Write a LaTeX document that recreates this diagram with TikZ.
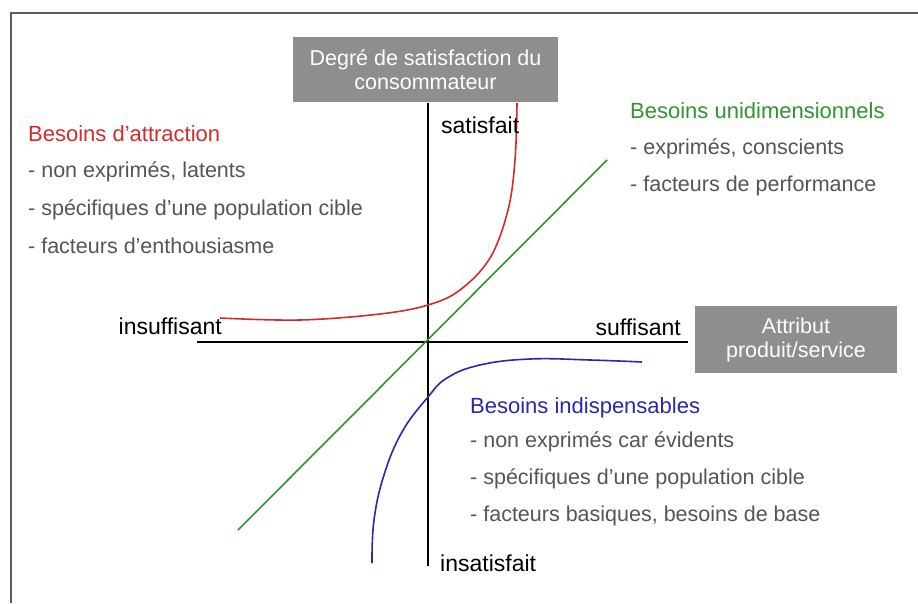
\documentclass[tikz,border=0pt]{standalone}
\usepackage{fontspec}
\setmainfont{Liberation Sans}
\definecolor{framegray}{HTML}{5C5C5C}
\definecolor{boxgray}{HTML}{8E8E8E}
\definecolor{txtgray}{HTML}{555555}
\definecolor{redc}{HTML}{D22B2B}
\definecolor{greenc}{HTML}{2F952F}
\definecolor{bluec}{HTML}{2828B0}
\begin{document}
\begin{tikzpicture}[x=1pt,y=-1pt,
  lab/.style={font=\fontsize{23}{26}\selectfont,text=black,inner sep=0pt},
  item/.style={font=\fontsize{21.5}{25}\selectfont,text=txtgray,inner sep=0pt,anchor=west},
  ttl/.style={font=\fontsize{22}{25}\selectfont,inner sep=0pt,anchor=west},
  gbox/.style={fill=boxgray,text=white,font=\fontsize{21.5}{24}\selectfont,align=center,inner sep=0pt,minimum width=#1},
  axis/.style={black,line width=1.3pt},
  curve/.style={line width=1.6pt}]
\useasboundingbox (0,0) rectangle (918,603);
\fill[white] (0,0) rectangle (918,603);
% frame
\coordinate (f1) at (11,603);
\coordinate (f2) at (11,13);
\coordinate (f3) at (918,13);
\draw[framegray,line width=2pt] (f1) -- (f2) -- (f3);
% boxes
\node[gbox=265pt,minimum height=65pt] (ybox) at (425.5,69.5) {Degré de satisfaction du\\consommateur};
\node[gbox=202pt,minimum height=67pt] (xbox) at (796,339.5) {Attribut\\produit/service};
% axes
\coordinate (vt) at (428,103);
\coordinate (vb) at (428,566);
\coordinate (hl) at (197,342);
\coordinate (hr) at (688,342);
\draw[axis] (vt) -- (vb);
\draw[axis] (hl) -- (hr);
% green line
\coordinate (g1) at (238,530);
\coordinate (g2) at (607,160);
\draw[greenc,curve] (g1) -- (g2);
% red curve
\draw[redc,curve] plot[smooth,tension=0.6] coordinates {(220,318) (300,320) (380,314) (428,305) (460,290) (490,258) (508,210) (515,160) (517,103)};
% blue curve
\draw[bluec,curve] plot[smooth,tension=0.7] coordinates {(642,362) (590,360) (530,359) (480,365) (447,378) (428,397) (402,432) (384,475) (374,520) (372,563)};
% axis labels
\node[lab,anchor=west] (sat) at (441,125) {satisfait};
\node[lab,anchor=west] (insat) at (440,563) {insatisfait};
\node[lab,anchor=east] (insuf) at (222,326) {insuffisant};
\node[lab,anchor=east] (suf) at (681,327) {suffisant};
% red block
\node[ttl,text=redc] (r0) at (28,134) {Besoins d’attraction};
\node[item] (r1) at (28,172) {- non exprimés, latents};
\node[item] (r2) at (28,210) {- spécifiques d’une population cible};
\node[item] (r3) at (28,246) {- facteurs d’enthousiasme};
% green block
\node[ttl,text=greenc] (gr0) at (630,111) {Besoins unidimensionnels};
\node[item] (gr1) at (630,149) {- exprimés, conscients};
\node[item] (gr2) at (630,186) {- facteurs de performance};
% blue block
\node[ttl,text=bluec] (b0) at (470,408) {Besoins indispensables};
\node[item] (b1) at (470,442) {- non exprimés car évidents};
\node[item] (b2) at (470,479) {- spécifiques d’une population cible};
\node[item] (b3) at (470,516) {- facteurs basiques, besoins de base};
\end{tikzpicture}
\end{document}
